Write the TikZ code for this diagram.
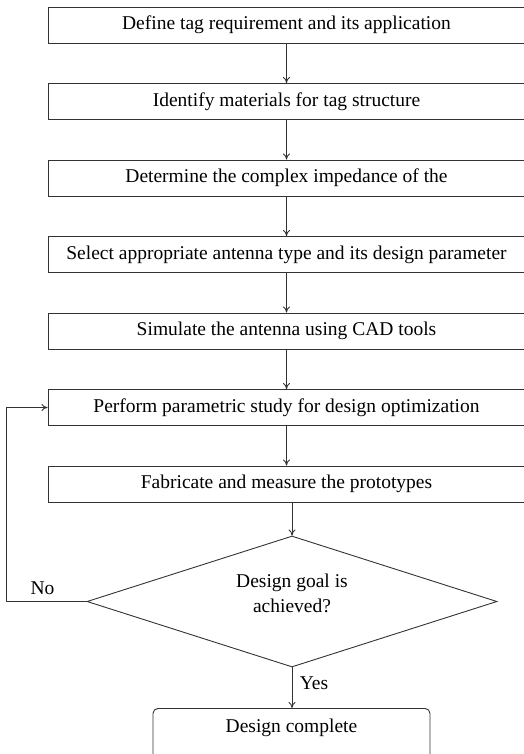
\documentclass[tikz,border=0pt]{standalone}
\usepackage{fontspec}
\setmainfont{Liberation Serif}
\usepackage{tikz}
\usetikzlibrary{arrows.meta}
\usetikzlibrary{positioning}
\usetikzlibrary{shapes.geometric}
\tikzset{
  flownode/.style = {align=center, font=\fontsize{19.5}{25}\selectfont,
    draw=black!80, line width=0.9pt},
  flow_b/.style = {flownode, rectangle, minimum width=477pt,
    minimum height=36pt},% boite d'etape
  flow_d/.style = {flownode, diamond, aspect=3.13, minimum width=410pt,
    minimum height=131pt, inner sep=0pt, text depth=17pt},% decision
  flow_e/.style = {flownode, rectangle, rounded corners=5pt,
    minimum width=277pt, text height=21pt, text depth=45pt}% fin
}

\begin{document}
\begin{tikzpicture}[->,>={To[length=6pt,width=7pt]},line width=0.9pt,
  draw=black!80, node distance=39.6pt]
\useasboundingbox (0,0) rectangle (523pt,-754pt);
\node [flow_b] (r) at (286.5pt,-25pt) {Define tag requirement and its application};
\node [flow_b, below=of r] (m) {Identify materials for tag structure};
\node [flow_b, below=of m] (z) {Determine the complex impedance of the};
\node [flow_b, below=of z] (a) {Select appropriate antenna type and its design parameter};
\node [flow_b, below=of a] (s) {Simulate the antenna using CAD tools};
\node [flow_b, below=of s] (p) {Perform parametric study for design optimization};
\node [flow_b, below=of p] (f) {Fabricate and measure the prototypes};
\node [flow_d] (d) at (292pt,-601.5pt) {Design goal is\\achieved?};
\node [flow_e, anchor=north] (e) at (291.5pt,-708pt) {Design complete};

\draw (r) -- (m);
\draw (m) -- (z);
\draw (z) -- (a);
\draw (a) -- (s);
\draw (s) -- (p);
\draw (p) -- (f);
\draw (f.south -| d.north) -- (d.north);
\draw (d.south) -- node[right=4pt, pos=.4, font=\fontsize{19.5}{20}\selectfont] {Yes} (e.north -| d.south);
\draw (d.west) -- node[above=3pt, pos=.55, font=\fontsize{19.5}{20}\selectfont] {No} ++(-80pt,0) |- (p.west);
%\draw[dashed] (d.east) -- ++(20pt,0);
\end{tikzpicture}
\end{document}
